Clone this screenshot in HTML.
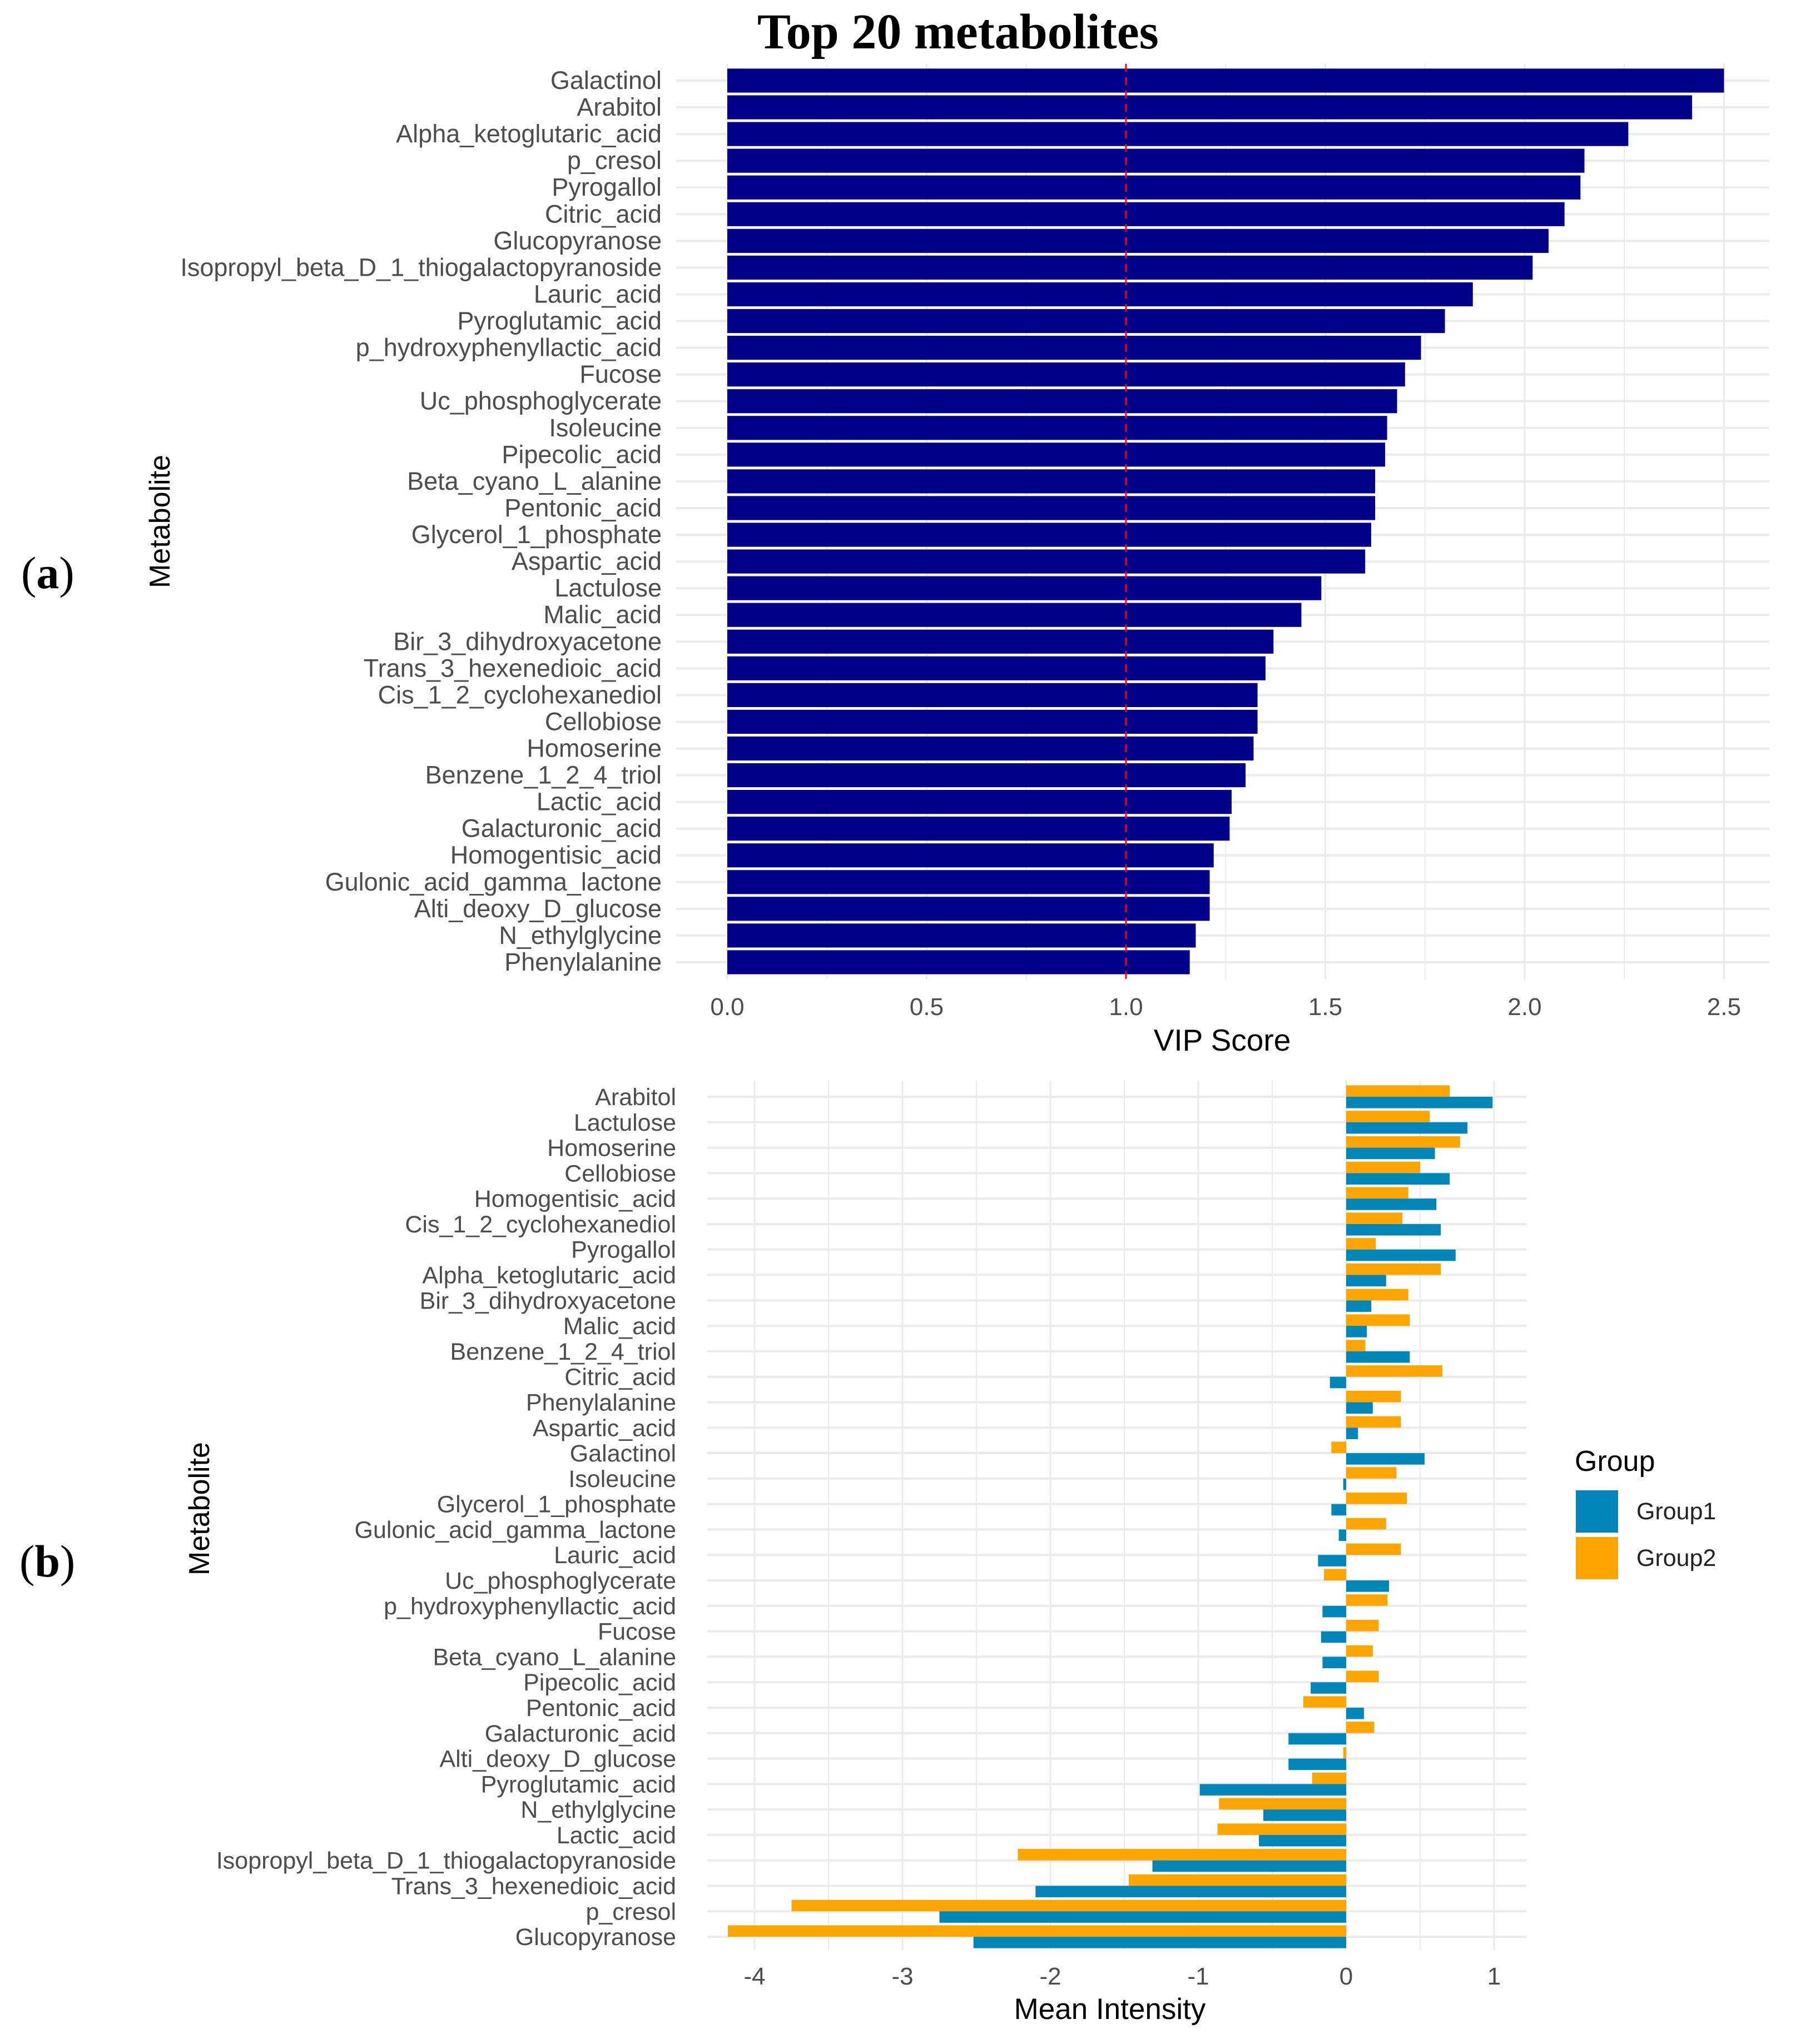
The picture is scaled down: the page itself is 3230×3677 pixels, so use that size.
<!DOCTYPE html>
<html><head><meta charset="utf-8"><style>
html,body{margin:0;padding:0;background:#fff;}
svg{display:block;}
text{font-family:"Liberation Sans",Arial,sans-serif;}
</style></head><body>
<svg id="chart" width="3230" height="3677" viewBox="0 0 3230 3677" xmlns="http://www.w3.org/2000/svg">
<text x="1362" y="87" font-weight="bold" font-size="90" style="font-family:'Liberation Serif',serif">Top 20 metabolites</text>
<text x="38" y="1058" font-size="82" style="font-family:'Liberation Serif',serif">(<tspan font-weight="bold">a</tspan>)</text>
<text x="35" y="2836" font-size="82" style="font-family:'Liberation Serif',serif">(<tspan font-weight="bold">b</tspan>)</text>
<text transform="translate(305,938) rotate(-90)" text-anchor="middle" font-size="52">Metabolite</text>
<text transform="translate(376,2714) rotate(-90)" text-anchor="middle" font-size="52">Metabolite</text>
<text x="2198" y="1890" text-anchor="middle" font-size="55">VIP Score</text>
<text x="1996" y="3632" text-anchor="middle" font-size="53">Mean Intensity</text>
<g id="pa"></g><g id="pb"></g>
<g>
<text x="2832" y="2646" font-size="52">Group</text>
<rect x="2834" y="2681" width="76" height="76" fill="#0086B9"/>
<rect x="2834" y="2765" width="76" height="76" fill="#FFA500"/>
<text x="2943" y="2733" font-size="43" fill="#222">Group1</text>
<text x="2943" y="2817" font-size="43" fill="#222">Group2</text>
</g>
</svg>
<script>
const vipNames=["Galactinol","Arabitol","Alpha_ketoglutaric_acid","p_cresol","Pyrogallol","Citric_acid","Glucopyranose","Isopropyl_beta_D_1_thiogalactopyranoside","Lauric_acid","Pyroglutamic_acid","p_hydroxyphenyllactic_acid","Fucose","Uc_phosphoglycerate","Isoleucine","Pipecolic_acid","Beta_cyano_L_alanine","Pentonic_acid","Glycerol_1_phosphate","Aspartic_acid","Lactulose","Malic_acid","Bir_3_dihydroxyacetone","Trans_3_hexenedioic_acid","Cis_1_2_cyclohexanediol","Cellobiose","Homoserine","Benzene_1_2_4_triol","Lactic_acid","Galacturonic_acid","Homogentisic_acid","Gulonic_acid_gamma_lactone","Alti_deoxy_D_glucose","N_ethylglycine","Phenylalanine"];
const vipValues=[2.50,2.42,2.26,2.15,2.14,2.10,2.06,2.02,1.87,1.80,1.74,1.70,1.68,1.655,1.65,1.625,1.625,1.615,1.60,1.49,1.44,1.37,1.35,1.33,1.33,1.32,1.30,1.265,1.26,1.22,1.21,1.21,1.175,1.16];
const vipTicks=["0.0","0.5","1.0","1.5","2.0","2.5"];
const vipThreshold=1.0;
const miNames=["Arabitol","Lactulose","Homoserine","Cellobiose","Homogentisic_acid","Cis_1_2_cyclohexanediol","Pyrogallol","Alpha_ketoglutaric_acid","Bir_3_dihydroxyacetone","Malic_acid","Benzene_1_2_4_triol","Citric_acid","Phenylalanine","Aspartic_acid","Galactinol","Isoleucine","Glycerol_1_phosphate","Gulonic_acid_gamma_lactone","Lauric_acid","Uc_phosphoglycerate","p_hydroxyphenyllactic_acid","Fucose","Beta_cyano_L_alanine","Pipecolic_acid","Pentonic_acid","Galacturonic_acid","Alti_deoxy_D_glucose","Pyroglutamic_acid","N_ethylglycine","Lactic_acid","Isopropyl_beta_D_1_thiogalactopyranoside","Trans_3_hexenedioic_acid","p_cresol","Glucopyranose"];
const group1=[0.99,0.82,0.60,0.70,0.61,0.64,0.74,0.27,0.17,0.14,0.43,-0.11,0.18,0.08,0.53,-0.02,-0.10,-0.05,-0.19,0.29,-0.16,-0.17,-0.16,-0.24,0.12,-0.39,-0.39,-0.99,-0.56,-0.59,-1.31,-2.10,-2.75,-2.52];
const group2=[0.70,0.565,0.77,0.50,0.42,0.38,0.20,0.64,0.42,0.43,0.13,0.65,0.37,0.37,-0.10,0.34,0.41,0.27,0.37,-0.15,0.28,0.22,0.18,0.22,-0.29,0.19,-0.02,-0.23,-0.86,-0.87,-2.22,-1.47,-3.75,-4.18];
const miTicks=[-4,-3,-2,-1,0,1];

const NS="http://www.w3.org/2000/svg";
function mk(parent,tag,attrs,txt){const e=document.createElementNS(NS,tag);for(const k in attrs)e.setAttribute(k,attrs[k]);if(txt!==undefined)e.textContent=txt;parent.appendChild(e);return e;}

// Panel A
const pa=document.getElementById('pa');
const ax=v=>1308+v*717;
const ay=i=>145+i*48.06;
for(let k=0;k<=10;k++){const t=k*0.25;
 const g=mk(pa,'line',{x1:ax(t),x2:ax(t),y1:115,y2:1762,stroke:'#ebebeb','stroke-width':k%2===0?3:2});
 
 }
vipNames.forEach((n,i)=>{
 const l=mk(pa,'line',{x1:1216,x2:3182,y1:ay(i),y2:ay(i),stroke:'#ebebeb','stroke-width':4});
 
 
});
vipNames.forEach((n,i)=>{
 const r=mk(pa,'rect',{x:ax(0),y:ay(i)-21.6,width:ax(vipValues[i])-ax(0),height:43.2,fill:'#00008B'});
 
 
 const t=mk(pa,'text',{x:1190,y:ay(i)+15,'text-anchor':'end','font-size':45,fill:'#4d4d4d'},n);
 
 
});
const th=mk(pa,'line',{x1:ax(vipThreshold),x2:ax(vipThreshold),y1:115,y2:1762,stroke:'#ff0000','stroke-width':3,'stroke-dasharray':'14 10'});


vipTicks.forEach(s=>{
 const t=mk(pa,'text',{x:ax(parseFloat(s)),y:1826,'text-anchor':'middle','font-size':44,fill:'#4d4d4d'},s);
 
 
});

// Panel B
const pb=document.getElementById('pb');
const bx=v=>2421+v*266;
const by=i=>1973+i*45.79;
for(let k=-9;k<=3;k++){const t=k*0.5;if(bx(t)<1270||bx(t)>2745)continue;
 const g=mk(pb,'line',{x1:bx(t),x2:bx(t),y1:1944,y2:3508,stroke:'#ebebeb','stroke-width':k%2===0?3:2});
 
 }
miNames.forEach((n,i)=>{
 const l=mk(pb,'line',{x1:1272,x2:2745,y1:by(i),y2:by(i),stroke:'#ebebeb','stroke-width':4});
 
 
});
miNames.forEach((n,i)=>{
 const v2=group2[i],v1=group1[i],h=20.6;
 const r2=mk(pb,'rect',{x:Math.min(bx(0),bx(v2)),y:by(i)-h,width:Math.abs(bx(v2)-bx(0)),height:h,fill:'#FFA500'});
 
 
 const r1=mk(pb,'rect',{x:Math.min(bx(0),bx(v1)),y:by(i),width:Math.abs(bx(v1)-bx(0)),height:h,fill:'#0086B9'});
 
 
 const t=mk(pb,'text',{x:1216,y:by(i)+15,'text-anchor':'end','font-size':43,fill:'#4d4d4d'},n);
 
 
});
miTicks.forEach(v=>{
 const t=mk(pb,'text',{x:bx(v),y:3570,'text-anchor':'middle','font-size':44,fill:'#4d4d4d'},String(v));
 
 
});
</script>
</body></html>
